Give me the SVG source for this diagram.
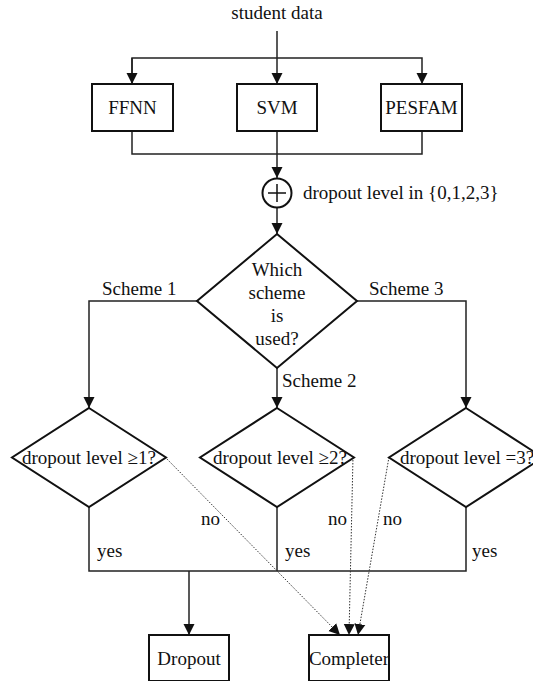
<svg xmlns="http://www.w3.org/2000/svg" width="533" height="681" viewBox="0 0 533 681">
<style>
text{font-family:"Liberation Serif","Times New Roman",serif;font-size:19px;fill:#111}
.box{fill:#fff;stroke:#111;stroke-width:2}
.ln{fill:none;stroke:#222;stroke-width:1.5}
.dot{fill:none;stroke:#333;stroke-width:1;stroke-dasharray:1.5 1.5}
.m{text-anchor:middle}
</style>
<defs>
<marker id="a" markerUnits="userSpaceOnUse" markerWidth="12" markerHeight="12" viewBox="0 0 12 12" refX="11" refY="6" orient="auto">
<path d="M0,0.5 L11,6 L0,11.5 Z" fill="#111"/>
</marker>
</defs>
<rect width="533" height="681" fill="#fff"/>
<text x="277" y="19" class="m">student data</text>
<g id="connectors">
<path class="ln" d="M277,31 V84" marker-end="url(#a)"/>
<path class="ln" d="M132,84 V58 H422 V84" marker-end="url(#a)"/>
<path class="ln" d="M132,58 V84" marker-end="url(#a)"/>
<path class="ln" d="M132,131 V154 H422 V131"/>
<path class="ln" d="M277,131 V178" marker-end="url(#a)"/>
<path class="ln" d="M277,208 V234" marker-end="url(#a)"/>
<path class="ln" d="M197,301 H89 V408" marker-end="url(#a)"/>
<path class="ln" d="M357,301 H466 V408" marker-end="url(#a)"/>
<path class="ln" d="M277,368 V408" marker-end="url(#a)"/>
<path class="ln" d="M89,507 V571 H466 V507"/>
<path class="ln" d="M277,507 V571"/>
<path class="ln" d="M189,571 V635" marker-end="url(#a)"/>
<path class="dot" d="M165,457 L340,635" marker-end="url(#a)"/>
<path class="dot" d="M353,457 L349,635" marker-end="url(#a)"/>
<path class="dot" d="M389,457 L358,635" marker-end="url(#a)"/>
</g>
<g id="ffnn"><rect class="box" x="92" y="84" width="81" height="47"/><text x="132.5" y="114" class="m">FFNN</text></g>
<g id="svm"><rect class="box" x="237" y="84" width="80" height="47"/><text x="277" y="114" class="m">SVM</text></g>
<g id="pesfam"><rect class="box" x="381" y="84" width="81" height="47"/><text x="421.5" y="114" class="m">PESFAM</text></g>
<g id="sum">
<circle cx="277" cy="193" r="14.5" fill="#fff" stroke="#111" stroke-width="2"/>
<path d="M277,184 V202 M268,193 H286" stroke="#111" stroke-width="1.5"/>
<text x="303" y="199">dropout level in {0,1,2,3}</text>
</g>
<g id="scheme">
<polygon class="box" points="277,234 357,301 277,368 197,301"/>
<text x="277" y="276" class="m">Which</text>
<text x="277" y="299" class="m">scheme</text>
<text x="277" y="322" class="m">is</text>
<text x="277" y="345" class="m">used?</text>
</g>
<text x="102" y="295">Scheme 1</text>
<text x="369" y="295">Scheme 3</text>
<text x="282" y="387">Scheme 2</text>
<g id="d1"><polygon class="box" points="89,408 166,457.5 89,507 12,457.5"/><text x="89" y="464" class="m">dropout level ≥1?</text></g>
<g id="d2"><polygon class="box" points="277,408 354,457.5 277,507 200,457.5"/><text x="280" y="464" class="m">dropout level ≥2?</text></g>
<g id="d3"><polygon class="box" points="466,408 543,457.5 466,507 389,457.5"/><text x="400" y="464">dropout level =3?</text></g>
<text x="201" y="525">no</text>
<text x="328" y="525">no</text>
<text x="383" y="525">no</text>
<text x="97" y="557">yes</text>
<text x="285" y="557">yes</text>
<text x="472" y="557">yes</text>
<g id="dropout"><rect class="box" x="149" y="635" width="80" height="46"/><text x="189" y="665" class="m">Dropout</text></g>
<g id="completer"><rect class="box" x="309" y="635" width="80" height="46"/><text x="349" y="665" class="m">Completer</text></g>
</svg>
